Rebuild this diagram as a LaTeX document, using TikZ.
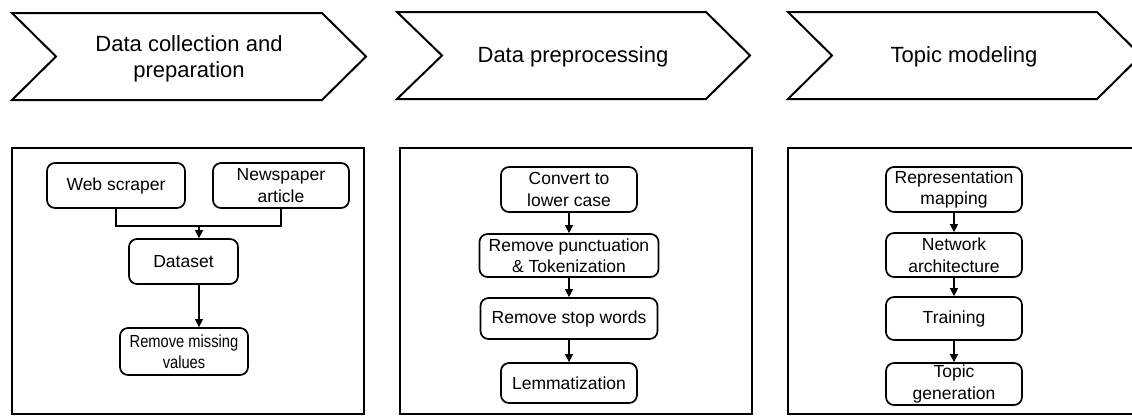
\documentclass[tikz,border=0pt]{standalone}
\usepackage{fontspec}
\setmainfont{Liberation Sans}
\usetikzlibrary{arrows.meta}
\tikzset{
  chev/.style={draw=black, line width=2pt, line join=miter},
  frame/.style={draw=black, line width=1.8pt},
  title/.style={font=\fontsize{22}{26}\selectfont, align=center, inner sep=0pt},
  stepbox/.style={draw=black, line width=1.7pt, rounded corners=8pt, align=center,
    font=\fontsize{17.5}{21.5}\selectfont, inner sep=0pt},
  conn/.style={draw=black, line width=1.1pt},
  arr/.style={conn, -{Triangle[length=8pt,width=8pt]}}
}
\begin{document}
\begin{tikzpicture}[x=1pt,y=-1pt]
\useasboundingbox (0,0) rectangle (1132,415);
\clip (0,0) rectangle (1132,415);
% chevrons
\draw[chev] (12,13) -- (322,13) -- (366,56.5) -- (322,100) -- (12,100) -- (56,56.5) -- cycle;
\draw[chev] (397,12) -- (706,12) -- (750,55.5) -- (706,99) -- (397,99) -- (442,55.5) -- cycle;
\draw[chev] (788,12) -- (1097,12) -- (1141,55.5) -- (1097,99) -- (788,99) -- (832,55.5) -- cycle;
\node[title] (t1) at (189,59) {Data collection and\\preparation};
\node[title] (t2) at (573,57) {Data preprocessing};
\node[title] (t3) at (964,57) {Topic modeling};
% frames
\draw[frame] (12,148) rectangle (364,414);
\draw[frame] (400,148) rectangle (752,414);
\draw[frame] (788,148) rectangle (1142,414);
% panel 1
\node[stepbox, minimum width=138pt, minimum height=45pt] (web) at (116,185.5) {Web scraper};
\node[stepbox, minimum width=136pt, minimum height=45pt] (news) at (281,185.5) {Newspaper\\article};
\node[stepbox, minimum width=109pt, minimum height=45pt] (data) at (183.5,261.5) {Dataset};
\node[stepbox, minimum width=128pt, minimum height=47pt] (rmv) at (184,351.5) {\scalebox{0.84}[1]{Remove missing}\\\scalebox{0.84}[1]{values}};
\coordinate (j1) at (199,226);
\draw[conn] (web.south) |- (news.south |- j1) -- (news.south);
\draw[arr] (j1) -- (j1 |- data.north);
\draw[arr] (data.south -| j1) -- (rmv.north -| j1);
% panel 2
\node[stepbox, minimum width=136pt, minimum height=45pt] (p1) at (569,189.5) {Convert to\\lower case};
\node[stepbox, minimum width=179pt, minimum height=43pt] (p2) at (569,255.5) {Remove punctuation\\\& Tokenization};
\node[stepbox, minimum width=177pt, minimum height=41pt] (p3) at (569,318.5) {Remove stop words};
\node[stepbox, minimum width=136pt, minimum height=40pt] (p4) at (569,383) {Lemmatization};
\draw[arr] (p1) -- (p2);
\draw[arr] (p2) -- (p3);
\draw[arr] (p3) -- (p4);
% panel 3
\node[stepbox, minimum width=136pt, minimum height=45pt] (m1) at (954,189.5) {Representation\\mapping};
\node[stepbox, minimum width=136pt, minimum height=44pt] (m2) at (954,255) {Network\\architecture};
\node[stepbox, minimum width=136pt, minimum height=43pt] (m3) at (954,318.5) {Training};
\node[stepbox, minimum width=136pt, minimum height=42pt] (m4) at (954,384) {Topic\\generation};
\draw[arr] (m1) -- (m2);
\draw[arr] (m2) -- (m3);
\draw[arr] (m3) -- (m4);
\end{tikzpicture}
\end{document}
